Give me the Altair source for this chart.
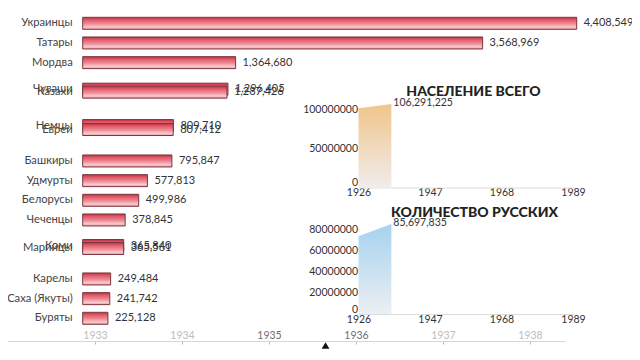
import altair as alt
import pandas as pd

# ---------------- data ----------------
names = ["Украинцы", "Татары", "Мордва", "Чуваши", "Казахи", "Немцы", "Евреи",
         "Башкиры", "Удмурты", "Белорусы", "Чеченцы", "Коми", "Марийцы",
         "Карелы", "Саха (Якуты)", "Буряты"]
values = [4408549, 3568969, 1364680, 1296405, 1287426, 809710, 807412,
          795847, 577813, 499986, 378845, 365840, 365561,
          249484, 241742, 225128]
# animated rank (bar race frame: some bars are mid-swap)
ranks = [0, 1, 2, 3.35, 3.5, 5.2, 5.4, 7, 8, 9, 10, 11.3, 11.45, 13, 14, 15]

line_years = [1926, 1935.65]
total_pop = [100891244, 106291225]
russians = [74072096, 85697835]

inset_x_ticks = [1926, 1947, 1968, 1989]
total_y_ticks = [0, 50000000, 100000000]
rus_y_ticks = [0, 20000000, 40000000, 60000000, 80000000]

timeline_years = [1933, 1934, 1935, 1936, 1937, 1938]
current_year = 1935.65

title_total = "НАСЕЛЕНИЕ ВСЕГО"
title_rus = "КОЛИЧЕСТВО РУССКИХ"

# ---------------- layout (page px -> plot px) ----------------
W, H = 624, 344
def P(v):
    return v - 8

FONT = "Lato"

# ---------------- bar race ----------------
bar_df = pd.DataFrame({"name": names, "value": values, "rank": ranks})

def xs():
    return alt.Scale(domain=[0, max(values)], range=[P(82.7), P(576.7)], padding=0, nice=False, zero=False)

def ys():
    return alt.Scale(domain=[0, len(names) - 1], range=[P(23.3), P(318.3)], padding=0, nice=False, zero=False)

bar_grad = alt.LinearGradient(
    gradient="linear",
    stops=[alt.GradientStop(color="#b73242", offset=0),
           alt.GradientStop(color="#e15a69", offset=0.22),
           alt.GradientStop(color="#ee8d97", offset=0.55),
           alt.GradientStop(color="#f8c9cd", offset=0.82),
           alt.GradientStop(color="#e79aa2", offset=1)],
    x1=0, x2=0, y1=0, y2=1)

bbase = alt.Chart(bar_df)
bars = bbase.mark_bar(orient="horizontal", size=12, fill=bar_grad,
                      stroke="#7d3640", strokeWidth=1).encode(
    x=alt.X("value:Q", scale=xs(), axis=None),
    y=alt.Y("rank:Q", scale=ys(), axis=None))
name_lbl = bbase.mark_text(align="right", baseline="middle", dx=-10,
                           fontSize=11.2, color="#444", font=FONT).encode(
    x=alt.XDatum(0, scale=xs(), axis=None),
    y=alt.Y("rank:Q", scale=ys(), axis=None), text="name:N")
val_lbl = bbase.mark_text(align="left", baseline="middle", dx=7,
                          fontSize=11, color="#333", font=FONT).encode(
    x=alt.X("value:Q", scale=xs(), axis=None),
    y=alt.Y("rank:Q", scale=ys(), axis=None),
    text=alt.Text("value:Q", format=","))

# ---------------- insets ----------------
def inset(vals, yticks, title, y0_page, ymax_page, title_x_page, title_y_page, c_top, c_bot):
    df = pd.DataFrame({"year": line_years, "value": vals})
    last = pd.DataFrame({"year": [line_years[-1]], "value": [vals[-1]]})

    def xsc():
        return alt.Scale(domain=[inset_x_ticks[0], inset_x_ticks[-1]],
                         range=[P(358.5), P(573)], nice=False, zero=False)

    def ysc():
        return alt.Scale(domain=[0, max(vals)], range=[P(y0_page), P(ymax_page)], nice=False)

    grad = alt.LinearGradient(
        gradient="linear",
        stops=[alt.GradientStop(color=c_top, offset=0),
               alt.GradientStop(color=c_bot, offset=1)],
        x1=0, x2=0, y1=0, y2=1)
    area = alt.Chart(df).mark_area(fill=grad, line=False).encode(
        x=alt.X("year:Q", scale=xsc(), axis=alt.Axis(
            orient="bottom", offset=P(y0_page) - H, values=inset_x_ticks, format="d",
            labelFlush=False, ticks=False, domainColor="#dcdcdc", labelColor="#333",
            labelFontSize=10.5, labelFont=FONT, labelPadding=0, grid=False, title=None)),
        y=alt.Y("value:Q", scale=ysc(), axis=alt.Axis(
            orient="left", offset=-P(358.5), values=yticks, format="d",
            labelFlush=True, ticks=False, domain=False, labelColor="#333",
            labelFontSize=10.5, labelFont=FONT, labelPadding=1, grid=False,
            title=title, titleAngle=0, titleX=title_x_page - 358.5, titleY=P(title_y_page),
            titleAlign="center", titleBaseline="middle", titleFont=FONT,
            titleFontSize=14, titleFontWeight=900, titleColor="#222")))
    lbl = alt.Chart(last).mark_text(align="left", baseline="middle", dx=2, dy=-1,
                                    fontSize=10.5, color="#333", font=FONT).encode(
        x=alt.X("year:Q", scale=xsc(), axis=None),
        y=alt.Y("value:Q", scale=ysc(), axis=None),
        text=alt.Text("value:Q", format=","))
    return [area, lbl]

inset_total = inset(total_pop, total_y_ticks, title_total, 187.5, 104.1, 473, 91,
                    "#f0c58a", "#f1ecec")
inset_rus = inset(russians, rus_y_ticks, title_rus, 314, 224, 474, 212,
                  "#a6d2ee", "#eceff3")

# ---------------- timeline ----------------
tl_df = pd.DataFrame({"year": [current_year]})
tl_scale = alt.Scale(domain=[1931.9, 1938.4], range=[P(-0.7), P(564.8)], nice=False, zero=False)
timeline = alt.Chart(tl_df).mark_point(shape="triangle-up", filled=True, size=60,
                                       color="#111", opacity=1).encode(
    x=alt.X("year:Q", scale=tl_scale, axis=alt.Axis(
        orient="bottom", offset=P(341) - H, values=timeline_years, format="d",
        tickSize=3, tickColor="#bbb", domainColor="#d6d6d6", grid=False,
        labelBaseline="middle", labelPadding=-9, labelFontSize=10.5, labelFont=FONT,
        labelColor={"condition": {"test": f"abs(datum.value - {current_year}) < 1", "value": "#6e6e6e"},
                    "value": "#bdbdbd"},
        labelOpacity={"condition": {"test": f"abs(datum.value - {current_year}) < 2", "value": 1},
                      "value": 0.1},
        title=None)),
    y=alt.value(P(345.5)))

chart = alt.layer(bars, name_lbl, val_lbl, *inset_total, *inset_rus, timeline).resolve_scale(
    x="independent", y="independent"
).properties(
    width=W, height=H, autosize=alt.AutoSizeParams(type="none"), padding=0,
    background="white"
).configure(font=FONT).configure_view(strokeWidth=0)

chart.save("out.html", embed_options={"renderer": "svg", "actions": False})
